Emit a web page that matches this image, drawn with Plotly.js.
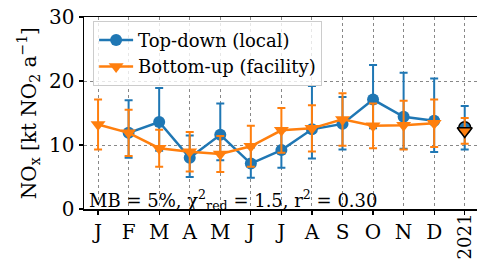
<!DOCTYPE html>
<html>
<head>
<meta charset="utf-8">
<script src="https://cdn.plot.ly/plotly-3.0.1.min.js"></script>
<style>
html,body{margin:0;padding:0;overflow:hidden;background:#fff;}
#chart{width:480px;height:263px;}
</style>
</head>
<body>
<div id="chart"></div>
<script>
const months = ['J','F','M','A','M','J','J','A','S','O','N','D'];
const monthIdx = [0,1,2,3,4,5,6,7,8,9,10,11];
const yearLabel = ['2021'];
const yearIdx = [12];

const topDown = [null, 11.9, 13.6, 8.0, 11.6, 7.1, 9.2, 12.45, 13.3, 17.1, 14.4, 13.8];
const topDownPlus = [null, 5.1, 5.3, 3.5, 4.9, 2.5, 3.0, 6.75, 4.2, 5.4, 6.9, 6.6];
const topDownMinus = [null, 3.9, 4.5, 3.0, 4.0, 2.2, 2.75, 4.55, 4.0, 4.5, 5.0, 4.9];

const bottomUp = [13.2, 11.9, 9.5, 8.95, 8.6, 9.8, 12.3, 12.6, 14.0, 13.0, 13.1, 13.4];
const bottomUpErr = [3.9, 3.6, 2.9, 3.1, 2.8, 3.2, 3.5, 3.6, 4.1, 3.5, 3.8, 3.7];

const topDownYear = [12.7];
const topDownYearPlus = [3.4];
const topDownYearMinus = [3.4];
const bottomUpYear = [12.2];
const bottomUpYearErr = [2.0];

const blue = '#1f77b4', orange = '#ff7f0e';
const serif = '"DejaVu Serif", "Liberation Serif", serif';

const traces = [
  {x: monthIdx, y: topDown, type:'scatter', mode:'lines+markers', name:'Top-down (local)',
   line:{color:blue, width:2.5}, marker:{color:blue, size:12, symbol:'circle'},
   error_y:{type:'data', symmetric:false, array:topDownPlus, arrayminus:topDownMinus, color:blue, thickness:2, width:4},
   connectgaps:false},
  {x: monthIdx, y: bottomUp, type:'scatter', mode:'lines+markers', name:'Bottom-up (facility)',
   line:{color:orange, width:2.5}, marker:{color:orange, size:13, symbol:'triangle-down'},
   error_y:{type:'data', array:bottomUpErr, color:orange, thickness:2, width:4}},
  {x: yearIdx, y: topDownYear, type:'scatter', mode:'markers', showlegend:false,
   marker:{color:blue, size:12, symbol:'circle', line:{color:'black', width:1.5}},
   error_y:{type:'data', symmetric:false, array:topDownYearPlus, arrayminus:topDownYearMinus, color:blue, thickness:2, width:4}},
  {x: yearIdx, y: bottomUpYear, type:'scatter', mode:'markers', showlegend:false,
   marker:{color:orange, size:13, symbol:'triangle-down', line:{color:'black', width:1.5}},
   error_y:{type:'data', array:bottomUpYearErr, color:orange, thickness:2, width:4}},
  {x: yearIdx, y: [null], xaxis:'x2', type:'scatter', mode:'markers', showlegend:false, hoverinfo:'skip'}
];

const layout = {
  width:480, height:263,
  margin:{l:84, r:0, t:17, b:54},
  paper_bgcolor:'#fff', plot_bgcolor:'#fff',
  font:{family:serif, color:'black', size:18},
  showlegend:true,
  legend:{x:0.023, y:0.98, xanchor:'left', yanchor:'top', bgcolor:'rgba(255,255,255,0.8)',
          bordercolor:'#cccccc', borderwidth:1, font:{family:serif, size:18, color:'black'}, itemwidth:34,
          tracegroupgap:0},
  xaxis:{range:[-0.46, 12.5], tickmode:'array', tickvals:monthIdx.concat(yearIdx), ticktext:months.concat(['']), tickangle:0,
         ticks:'outside', ticklen:4, tickwidth:1.2, tickcolor:'black',
         showline:true, mirror:true, linecolor:'black', linewidth:1.5,
         showgrid:true, gridcolor:'#888', griddash:'dot', gridwidth:1, zeroline:false,
         tickfont:{family:serif, size:20, color:'black'}},
  xaxis2:{overlaying:'x', side:'bottom', range:[-0.46, 12.5], tickmode:'array', tickvals:yearIdx, ticktext:yearLabel,
          tickangle:-90, ticks:'', showline:false, showgrid:false, zeroline:false,
          tickfont:{family:serif, size:18, color:'black'}},
  yaxis:{range:[0,30], tickvals:[0,10,20,30], ticks:'outside', ticklen:4, tickwidth:1.2, tickcolor:'black',
         showline:true, mirror:true, linecolor:'black', linewidth:1.5,
         showgrid:true, gridcolor:'#888', griddash:'dot', gridwidth:1, zeroline:false,
         tickfont:{family:serif, size:20, color:'black'}},
  annotations:[
    {xref:'paper', yref:'paper', x:-0.141, y:0.5, xanchor:'center', yanchor:'middle', showarrow:false, textangle:-90,
     text:'NO<sub>x</sub> [kt NO<sub>2</sub> a<sup>−1</sup>]',
     font:{family:serif, size:20, color:'black'}},
    {xref:'paper', yref:'paper', x:0.008, y:-0.03, xanchor:'left', yanchor:'bottom', showarrow:false,
     text:'MB = 5%, χ<sup>2</sup><sub>red</sub> = 1.5, r<sup>2</sup> = 0.30',
     font:{family:serif, size:18, color:'black'}}
  ]
};

Plotly.newPlot('chart', traces, layout, {displayModeBar:false, staticPlot:true});
</script>
</body>
</html>
